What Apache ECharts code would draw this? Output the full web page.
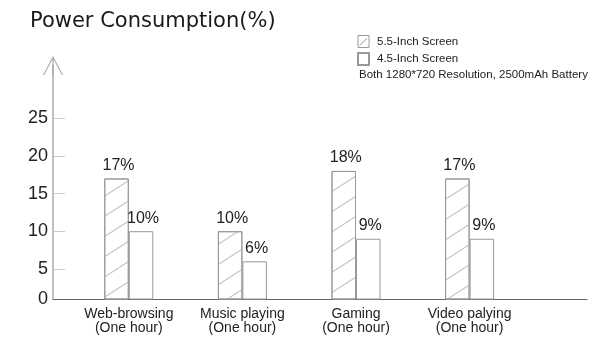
<!DOCTYPE html>
<html>
<head>
<meta charset="utf-8">
<script src="https://cdn.jsdelivr.net/npm/echarts@6/dist/echarts.min.js"></script>
<style>
html,body{margin:0;padding:0;background:#fff;}
#chart{width:600px;height:348px;}
</style>
</head>
<body>
<div id="chart"></div>
<script>
var categories = ['Web-browsing\n(One hour)', 'Music playing\n(One hour)', 'Gaming\n(One hour)', 'Video palying\n(One hour)'];
var screen55 = [17, 10, 18, 17];
var screen45 = [10, 6, 9, 9];
var yTickValues = [5, 10, 15, 20, 25];
var yLabelValues = [1, 5, 10, 15, 20, 25];
var seriesNames = ['5.5-Inch Screen', '4.5-Inch Screen'];
var titleText = 'Power Consumption(%)';
var noteText = 'Both 1280*720 Resolution, 2500mAh Battery';

var FONT = 'Liberation Sans, Arial, sans-serif';
var chart = echarts.init(document.getElementById('chart'), null, {renderer: 'canvas'});

var labelOpt = {
  show: true, position: 'top', distance: 5, offset: [2, 0],
  formatter: '{c}%', fontSize: 16, color: '#222', fontFamily: FONT
};

var option = {
  backgroundColor: '#fff',
  animation: false,
  title: [
    {text: titleText, left: 30, top: 11, padding: 0,
     textStyle: {fontFamily: 'DejaVu Sans', fontSize: 21, fontWeight: 'normal', color: '#1a1a1a'}},
    {text: noteText, left: 359, top: 69, padding: 0,
     textStyle: {fontFamily: FONT, fontSize: 11.5, fontWeight: 'normal', color: '#222'}}
  ],
  legend: {
    data: [
      {name: seriesNames[0], icon: 'path://M0,0 L110,0 L110,120 L0,120 Z M18,100 L92,26',
       itemStyle: {decal: 'none', color: '#fff', borderColor: '#999', borderWidth: 1}},
      {name: seriesNames[1], icon: 'rect'}
    ],
    orient: 'vertical', left: 357, top: 35, padding: 0,
    itemWidth: 11, itemHeight: 12, itemGap: 4,
    textStyle: {fontFamily: FONT, fontSize: 11.5, color: '#222', padding: [0, 0, 0, 3]}
  },
  grid: [
    {left: 72, right: 73.6, top: 65.5, bottom: 49},
    {left: 53, right: 13, top: 65.5, bottom: 49}
  ],
  xAxis: [
    {type: 'category', gridIndex: 0, data: categories,
     axisLine: {show: false}, axisTick: {show: false},
     axisLabel: {interval: 0, fontFamily: FONT, fontSize: 14, lineHeight: 14, margin: 8, color: '#222'}},
    {type: 'value', gridIndex: 1, min: 0, max: 1,
     axisLine: {show: true, lineStyle: {color: '#666', width: 1}},
     axisTick: {show: false}, axisLabel: {show: false}, splitLine: {show: false}}
  ],
  yAxis: [
    {type: 'value', gridIndex: 0, min: 1, max: 32, show: false, splitLine: {show: false}},
    {type: 'value', gridIndex: 1, min: 1, max: 32,
     axisLine: {show: true, lineStyle: {color: '#aaa', width: 1.5},
       symbol: ['none', 'path://M100,0 L0,190 L12,190 L94,35 L94,190 L106,190 L106,35 L188,190 L200,190 Z'],
       symbolSize: [22, 19]},
     axisTick: {show: true, inside: true, length: 12, customValues: yTickValues,
       lineStyle: {color: '#ccc', width: 1}},
     axisLabel: {customValues: yLabelValues, margin: 5, fontFamily: FONT, fontSize: 18, color: '#222',
       formatter: function (v) { return v === 1 ? '0' : String(v); }},
     splitLine: {show: false}}
  ],
  series: [
    {name: seriesNames[0], type: 'bar', xAxisIndex: 0, yAxisIndex: 0, data: screen55,
     barWidth: 24.5, barGap: '0%',
     itemStyle: {color: '#fff', borderColor: '#999', borderWidth: 1,
       decal: {symbol: 'rect', symbolSize: 1, dashArrayX: [1, 0], dashArrayY: [1, 16],
               rotation: -Math.PI / 5.5, color: '#bbb'}},
     label: labelOpt},
    {name: seriesNames[1], type: 'bar', xAxisIndex: 0, yAxisIndex: 0, data: screen45,
     barWidth: 24.5, barGap: '0%',
     itemStyle: {color: '#fff', borderColor: '#999', borderWidth: 1},
     label: labelOpt}
  ]
};
chart.setOption(option);
</script>
</body>
</html>
